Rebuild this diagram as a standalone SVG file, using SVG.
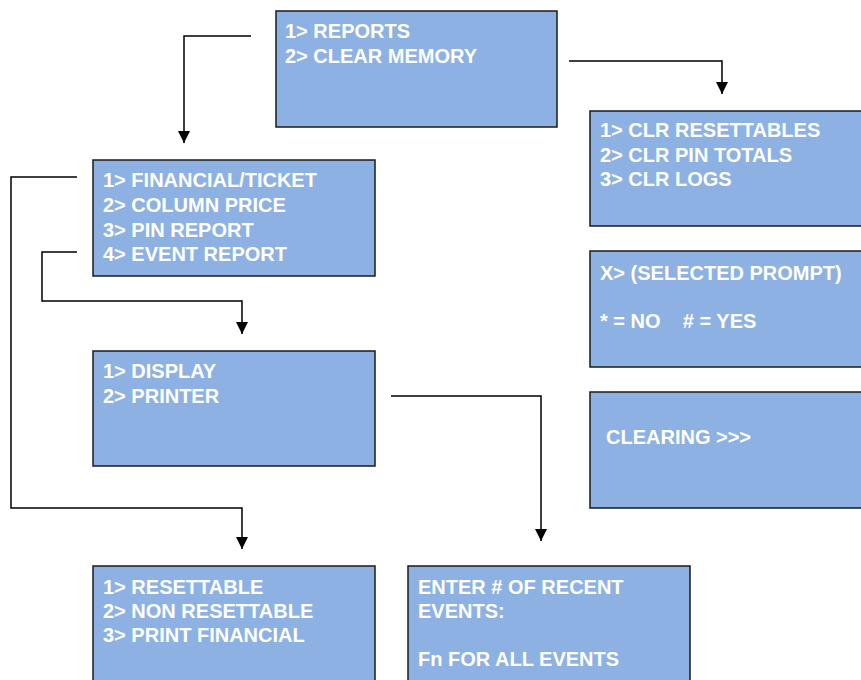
<svg xmlns="http://www.w3.org/2000/svg" width="861" height="680" viewBox="0 0 861 680">
<style>
.box{fill:#8DB1E3;stroke:#1a1a1a;stroke-width:1.5}
.t{font-family:"Liberation Sans",Arial,sans-serif;font-weight:bold;font-size:20px;fill:#ffffff}
.c{fill:none;stroke:#000;stroke-width:1.5}
</style>
<defs>
<marker id="ah" markerWidth="12" markerHeight="12" viewBox="0 0 12 12" refX="12" refY="6" orient="auto" markerUnits="userSpaceOnUse">
<path d="M0,0 L12,6 L0,12 Z" fill="#000"/>
</marker>
</defs>
<rect width="861" height="680" fill="#ffffff"/>
<g id="connectors">
<path class="c" d="M251,36 H184 V143" marker-end="url(#ah)"/>
<path class="c" d="M569,61 H722 V94" marker-end="url(#ah)"/>
<path class="c" d="M77,177 H11 V508 H242 V549" marker-end="url(#ah)"/>
<path class="c" d="M77,252 H42 V301 H242 V334" marker-end="url(#ah)"/>
<path class="c" d="M391,396 H541 V541" marker-end="url(#ah)"/>
</g>
<g id="main">
<rect class="box" x="276" y="11" width="281" height="116"/>
<text class="t" x="285" y="38">1&gt; REPORTS</text>
<text class="t" x="285" y="63">2&gt; CLEAR MEMORY</text>
</g>
<g id="reports">
<rect class="box" x="93" y="160" width="282" height="116"/>
<text class="t" x="103" y="187">1&gt; FINANCIAL/TICKET</text>
<text class="t" x="103" y="212">2&gt; COLUMN PRICE</text>
<text class="t" x="103" y="237">3&gt; PIN REPORT</text>
<text class="t" x="103" y="261">4&gt; EVENT REPORT</text>
</g>
<g id="output">
<rect class="box" x="93" y="351" width="282" height="115"/>
<text class="t" x="103" y="378">1&gt; DISPLAY</text>
<text class="t" x="103" y="403">2&gt; PRINTER</text>
</g>
<g id="financial">
<rect class="box" x="93" y="566" width="282" height="130"/>
<text class="t" x="103" y="594">1&gt; RESETTABLE</text>
<text class="t" x="103" y="618">2&gt; NON RESETTABLE</text>
<text class="t" x="103" y="642">3&gt; PRINT FINANCIAL</text>
</g>
<g id="events">
<rect class="box" x="408" y="566" width="282" height="130"/>
<text class="t" x="418" y="594">ENTER # OF RECENT</text>
<text class="t" x="418" y="618">EVENTS:</text>
<text class="t" x="418" y="666">Fn FOR ALL EVENTS</text>
</g>
<g id="clear">
<rect class="box" x="590" y="111" width="290" height="115"/>
<text class="t" x="600" y="137">1&gt; CLR RESETTABLES</text>
<text class="t" x="600" y="162">2&gt; CLR PIN TOTALS</text>
<text class="t" x="600" y="186">3&gt; CLR LOGS</text>
</g>
<g id="prompt">
<rect class="box" x="590" y="251" width="290" height="116"/>
<text class="t" x="600" y="280">X&gt; (SELECTED PROMPT)</text>
<text class="t" x="600" y="328" xml:space="preserve">* = NO    # = YES</text>
</g>
<g id="clearing">
<rect class="box" x="590" y="392" width="290" height="116"/>
<text class="t" x="606" y="444">CLEARING &gt;&gt;&gt;</text>
</g>
</svg>
